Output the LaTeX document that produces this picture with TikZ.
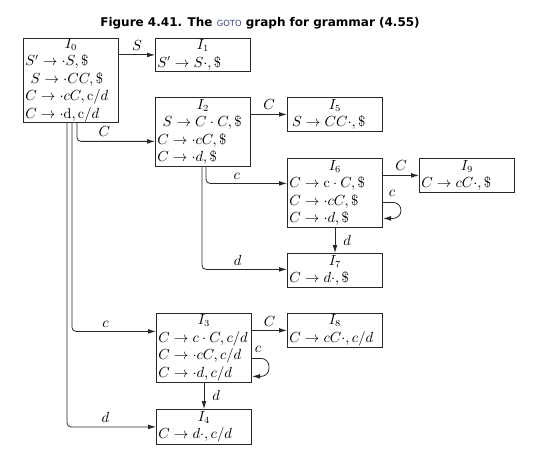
\documentclass[tikz,border=0pt]{standalone}
\usepackage{fontspec}
\usetikzlibrary{arrows.meta,calc}
\newfontfamily\titlefont{DejaVu Sans}
\definecolor{gotoblue}{RGB}{55,65,115}
\definecolor{ln}{RGB}{40,40,40}
\newcommand\nl{\\[0.4pt]}
\begin{document}
\begin{tikzpicture}[x=0.75pt,y=-0.75pt,
  state/.style={draw=ln, line width=0.6pt, rectangle, anchor=north west,
    inner xsep=1.5pt, inner ysep=0pt, text width=68.4pt, align=left,
    font=\fontsize{10.6}{12.75}\selectfont},
  edge/.style={draw=ln, line width=0.6pt, -{Latex[length=6pt,width=3.6pt]}, rounded corners=3pt},
  lab/.style={font=\fontsize{10.6}{12}\selectfont, inner sep=0pt},
  ttl/.style={font=\titlefont\fontsize{9}{11}\selectfont\bfseries, inner sep=0pt}]
\useasboundingbox (0,0) rectangle (543,453);

\node[ttl] (title) at (260,23) {Figure 4.41. The {\mdseries\fontsize{6.3}{8}\selectfont\color{gotoblue}GOTO} graph for grammar (4.55)};

\node[state, minimum height=62.25pt] (I0) at (23,38) {\hfill$I_0$\hfill\null\nl
$S'\to\cdot S,\$$\nl
\hspace{4pt}$S\to\cdot CC,\$$\nl
$C\to\cdot cC,\mathrm{c}/d$\nl
$C\to\cdot \mathrm{d},\mathrm{c}/d$};

\node[state, minimum height=24.75pt] (I1) at (155,38) {\hfill$I_1$\hfill\null\nl
$S'\to S\cdot,\$$};

\node[state, minimum height=51.75pt] (I2) at (155,97) {\hfill$I_2$\hfill\null\nl
\hspace{4pt}$S\to C\cdot C,\$$\nl
$C\to\cdot cC,\$$\nl
$C\to\cdot d,\$$};

\node[state, minimum height=25.5pt] (I5) at (287,97) {\hfill$I_5$\hfill\null\nl
\hspace{2pt}$S\to CC\cdot,\$$};

\node[state, minimum height=51.75pt] (I6) at (287,158) {\hfill$I_6$\hfill\null\nl
$C\to\mathrm{c}\cdot C,\$$\nl
$C\to\cdot cC,\$$\nl
$C\to\cdot d,\$$};

\node[state, minimum height=25.5pt] (I9) at (419,158) {\hfill$I_9$\hfill\null\nl
$C\to cC\cdot,\$$};

\node[state, minimum height=25.5pt] (I7) at (287,253) {\hfill$I_7$\hfill\null\nl
$C\to d\cdot,\$$};

\node[state, minimum height=51.75pt] (I3) at (156,313) {\hfill$I_3$\hfill\null\nl
$C\to c\cdot C,c/d$\nl
$C\to\cdot cC,c/d$\nl
$C\to\cdot d,c/d$};

\node[state, minimum height=25.5pt] (I8) at (287,313) {\hfill$I_8$\hfill\null\nl
$C\to cC\cdot,c/d$};

\node[state, minimum height=26.25pt] (I4) at (156,409) {\hfill$I_4$\hfill\null\nl
$C\to d\cdot,c/d$};

% edges
\draw[edge] (I0.east |- I1.west) -- node[lab, above=3pt] {$S$} (I1.west);
\draw[edge] ($(I0.south west)+(54,0)$) |- node[lab, above=3pt, pos=0.675] {$C$} ($(I2.west)+(0,9.5)$);
\draw[edge] ($(I0.south west)+(49,0)$) |- node[lab, above=3pt, pos=0.7] {$c$} ($(I3.west)+(0,-16.5)$);
\draw[edge] ($(I0.south west)+(44,0)$) |- node[lab, above=3pt, pos=0.716] {$d$} (I4.west);

\draw[edge] (I2.east |- I5.west) -- node[lab, above=3pt] {$C$} (I5.west);
\draw[edge] ($(I2.south west)+(51,0)$) |- node[lab, above=3pt, pos=0.69] {$c$} ($(I6.west)+(0,-9.5)$);
\draw[edge] ($(I2.south west)+(47,0)$) |- node[lab, above=3pt, pos=0.71] {$d$} ($(I7.west)+(0,-1)$);

\draw[edge] (I6.east |- I9.west) -- node[lab, above=3pt] {$C$} (I9.west);
\draw[edge, rounded corners=6pt] ($(I6.east)+(0,9.5)$) -- node[lab, above=4pt] {$c$} ++(18,0) -- ++(0,16) -- ($(I6.east)+(0,25.5)$);
\draw[edge] (I6.south) -- node[lab, right=6pt] {$d$} (I7.north);

\draw[edge] (I3.east |- I8.west) -- node[lab, above=3pt] {$C$} (I8.west);
\draw[edge, rounded corners=6pt] ($(I3.east)+(0,10.5)$) -- node[lab, above=4pt, pos=0.35] {$c$} ++(17,0) -- ++(0,18) -- ($(I3.east)+(0,28.5)$);
\draw[edge] (I3.south) -- node[lab, right=6pt] {$d$} (I4.north);
\end{tikzpicture}
\end{document}
